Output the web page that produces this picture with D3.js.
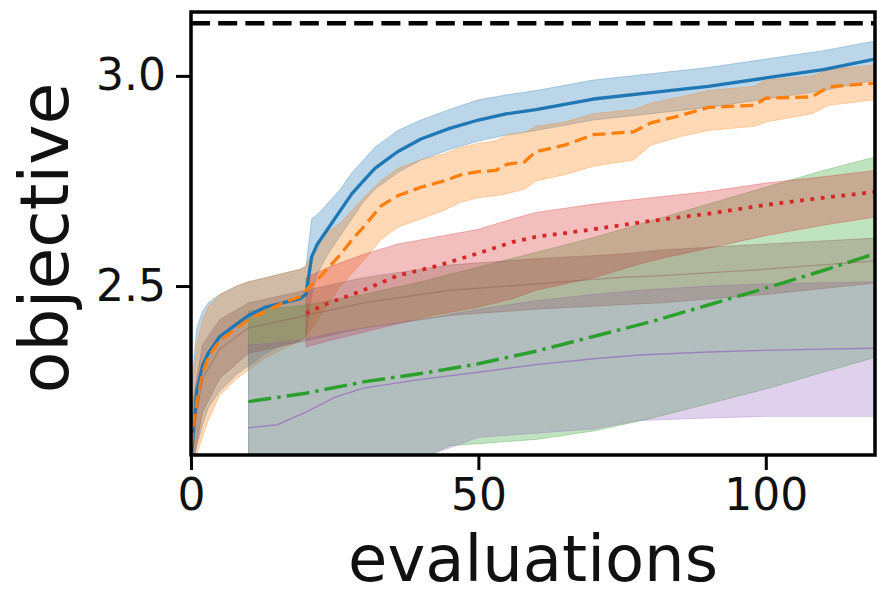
<!DOCTYPE html>
<html>
<head>
<meta charset="utf-8">
<script src="https://cdn.jsdelivr.net/npm/d3@7"></script>
<style>
  html, body { margin: 0; padding: 0; background: #fff; }
  svg { display: block; font-family: "DejaVu Sans", sans-serif; }
</style>
</head>
<body>
<svg id="chart" width="877" height="596"></svg>
<script>
// ---- data: mean curve with lower / upper band for each method ----
const xTicks = [0, 50, 100];
const yTicks = [2.5, 3.0];
const optimum = 3.125;

const blueX    = [0, 1, 2, 3, 5, 8, 10, 13, 16, 19, 20, 21, 22, 24, 26, 28, 30, 32, 34, 36, 40, 45, 50, 55, 60, 70, 80, 90, 100, 110, 119];
const blueMean = [2.08, 2.25, 2.31, 2.34, 2.38, 2.41, 2.43, 2.45, 2.46, 2.47, 2.48, 2.57, 2.60, 2.64, 2.68, 2.72, 2.75, 2.78, 2.80, 2.82, 2.85, 2.875, 2.895, 2.91, 2.92, 2.945, 2.96, 2.975, 2.995, 3.015, 3.04];
const blueHi   = [2.25, 2.40, 2.44, 2.46, 2.48, 2.50, 2.51, 2.52, 2.53, 2.54, 2.545, 2.66, 2.67, 2.70, 2.73, 2.77, 2.80, 2.83, 2.85, 2.87, 2.895, 2.92, 2.943, 2.955, 2.965, 2.99, 3.005, 3.02, 3.04, 3.06, 3.083];
const blueLo   = [2.05, 2.12, 2.17, 2.21, 2.25, 2.29, 2.31, 2.34, 2.36, 2.37, 2.38, 2.48, 2.53, 2.58, 2.62, 2.66, 2.70, 2.73, 2.75, 2.77, 2.80, 2.825, 2.845, 2.86, 2.87, 2.895, 2.91, 2.925, 2.945, 2.965, 2.99];

const orangeX    = [0, 1, 2, 3, 5, 8, 10, 13, 16, 19, 20, 22, 24, 26, 28, 30, 33, 36, 40, 44, 47, 50, 53, 55, 58, 60, 65, 70, 77, 80, 85, 90, 98, 100, 108, 111, 119];
const orangeMean = [2.12, 2.22, 2.29, 2.33, 2.37, 2.40, 2.42, 2.44, 2.46, 2.475, 2.49, 2.515, 2.545, 2.575, 2.61, 2.64, 2.69, 2.715, 2.735, 2.75, 2.765, 2.772, 2.775, 2.79, 2.795, 2.82, 2.835, 2.86, 2.867, 2.888, 2.905, 2.925, 2.93, 2.947, 2.95, 2.974, 2.983];
const orangeHi   = [2.22, 2.36, 2.42, 2.45, 2.48, 2.50, 2.51, 2.52, 2.53, 2.54, 2.55, 2.60, 2.63, 2.65, 2.68, 2.71, 2.75, 2.78, 2.80, 2.815, 2.83, 2.84, 2.845, 2.86, 2.865, 2.88, 2.89, 2.91, 2.92, 2.935, 2.95, 2.965, 2.975, 2.99, 3.0, 3.015, 3.026];
const orangeLo   = [2.05, 2.10, 2.14, 2.18, 2.24, 2.28, 2.30, 2.33, 2.35, 2.37, 2.38, 2.42, 2.46, 2.50, 2.53, 2.56, 2.61, 2.64, 2.66, 2.68, 2.70, 2.71, 2.715, 2.72, 2.73, 2.75, 2.765, 2.785, 2.80, 2.835, 2.855, 2.87, 2.88, 2.89, 2.91, 2.93, 2.943];

const greenX    = [10, 20, 30, 40, 45, 50, 60, 70, 80, 90, 100, 110, 119];
const greenMean = [2.225, 2.245, 2.272, 2.292, 2.303, 2.315, 2.345, 2.38, 2.415, 2.455, 2.495, 2.537, 2.577];
const greenHi   = [2.44, 2.455, 2.48, 2.51, 2.528, 2.545, 2.58, 2.615, 2.655, 2.695, 2.735, 2.775, 2.807];
const greenLo   = [1.98, 2.0, 2.04, 2.09, 2.12, 2.125, 2.135, 2.155, 2.185, 2.22, 2.255, 2.295, 2.33];

const redX    = [20, 24, 30, 36, 42, 50, 56, 60, 70, 80, 90, 100, 110, 119];
const redMean = [2.435, 2.46, 2.49, 2.525, 2.545, 2.578, 2.605, 2.617, 2.635, 2.655, 2.672, 2.693, 2.71, 2.724];
const redHi   = [2.52, 2.545, 2.575, 2.60, 2.615, 2.635, 2.66, 2.675, 2.695, 2.71, 2.725, 2.745, 2.76, 2.775];
const redLo   = [2.355, 2.37, 2.39, 2.41, 2.43, 2.45, 2.47, 2.49, 2.52, 2.56, 2.59, 2.62, 2.645, 2.664];

const purpleX    = [10, 15, 20, 25, 30, 40, 50, 60, 70, 78, 90, 100, 110, 119];
const purpleMean = [2.163, 2.17, 2.20, 2.235, 2.257, 2.278, 2.295, 2.313, 2.327, 2.336, 2.343, 2.347, 2.35, 2.352];
const purpleHi   = [2.36, 2.365, 2.375, 2.39, 2.40, 2.42, 2.445, 2.465, 2.48, 2.49, 2.50, 2.505, 2.508, 2.51];
const purpleLo   = [1.96, 1.97, 1.99, 2.02, 2.05, 2.09, 2.14, 2.15, 2.16, 2.18, 2.186, 2.19, 2.19, 2.19];

const brownX    = [0, 2, 5, 10, 20, 30, 45, 60, 74, 82, 100, 119];
const brownMean = [2.12, 2.28, 2.35, 2.40, 2.43, 2.46, 2.49, 2.505, 2.52, 2.525, 2.54, 2.56];
const brownHi   = [2.20, 2.36, 2.42, 2.46, 2.49, 2.52, 2.55, 2.565, 2.575, 2.586, 2.60, 2.614];
const brownLo   = [2.05, 2.20, 2.28, 2.34, 2.37, 2.40, 2.43, 2.445, 2.455, 2.46, 2.48, 2.507];

// ---- styling per method ----
const series = [
  { xs: blueX,   mean: blueMean,   lo: blueLo,   hi: blueHi,   color: "#1f77b4", width: 3.3, dash: null,          lineOpacity: 1 },
  { xs: orangeX, mean: orangeMean, lo: orangeLo, hi: orangeHi, color: "#ff7f0e", width: 3.3, dash: "13,6",        lineOpacity: 1 },
  { xs: greenX,  mean: greenMean,  lo: greenLo,  hi: greenHi,  color: "#2ca02c", width: 3.5, dash: "23,6,3.5,6",  lineOpacity: 1 },
  { xs: redX,    mean: redMean,    lo: redLo,    hi: redHi,    color: "#d62728", width: 3.8, dash: "3.8,6.6",     lineOpacity: 1 },
  { xs: purpleX, mean: purpleMean, lo: purpleLo, hi: purpleHi, color: "#9467bd", width: 1.4, dash: null,          lineOpacity: 0.7 },
  { xs: brownX,  mean: brownMean,  lo: brownLo,  hi: brownHi,  color: "#8c564b", width: 1.3, dash: null,          lineOpacity: 0.4 }
];

// ---- layout ----
const plot = { left: 191, right: 875, top: 12, bottom: 455 };
const svg = d3.select("#chart");

const x = d3.scaleLinear().domain([0, 119]).range([plot.left, plot.right]);
const y = d3.scaleLinear().domain([2.098, 3.152]).range([plot.bottom, plot.top]);

svg.append("defs").append("clipPath").attr("id", "plot-clip")
  .append("rect")
  .attr("x", plot.left).attr("y", plot.top)
  .attr("width", plot.right - plot.left).attr("height", plot.bottom - plot.top);

const g = svg.append("g").attr("clip-path", "url(#plot-clip)");

const rows = s => s.xs.map((v, i) => ({ x: v, m: s.mean[i], lo: s.lo[i], hi: s.hi[i] }));

const area = d3.area().x(d => x(d.x)).y0(d => y(d.lo)).y1(d => y(d.hi));
const line = d3.line().x(d => x(d.x)).y(d => y(d.m));

// shaded spread bands
series.forEach(s => {
  g.append("path")
    .datum(rows(s))
    .attr("d", area)
    .attr("fill", s.color)
    .attr("fill-opacity", 0.3)
    .attr("stroke", s.color)
    .attr("stroke-opacity", 0.3)
    .attr("stroke-width", 1);
});

// mean curves
series.forEach(s => {
  g.append("path")
    .datum(rows(s))
    .attr("d", line)
    .attr("fill", "none")
    .attr("stroke", s.color)
    .attr("stroke-opacity", s.lineOpacity)
    .attr("stroke-width", s.width)
    .attr("stroke-dasharray", s.dash)
    .attr("stroke-linejoin", "round");
});

// optimum reference line
g.append("line")
  .attr("x1", plot.left).attr("x2", plot.right)
  .attr("y1", y(optimum)).attr("y2", y(optimum))
  .attr("stroke", "#000")
  .attr("stroke-width", 4.5)
  .attr("stroke-dasharray", "19,8.2");

// frame
svg.append("rect")
  .attr("x", plot.left).attr("y", plot.top)
  .attr("width", plot.right - plot.left).attr("height", plot.bottom - plot.top)
  .attr("fill", "none").attr("stroke", "#000").attr("stroke-width", 3.5);

// axes
const xAxis = svg.append("g")
  .attr("transform", `translate(0,${plot.bottom})`)
  .call(d3.axisBottom(x).tickValues(xTicks).tickFormat(d3.format("d")).tickSize(15).tickPadding(9));
const yAxis = svg.append("g")
  .attr("transform", `translate(${plot.left},0)`)
  .call(d3.axisLeft(y).tickValues(yTicks).tickFormat(d3.format(".1f")).tickSize(15).tickPadding(10));

[xAxis, yAxis].forEach(a => {
  a.select(".domain").remove();
  a.selectAll(".tick line").attr("stroke", "#000").attr("stroke-width", 3);
  a.selectAll(".tick text")
    .attr("fill", "#111")
    .style("font-family", "'DejaVu Sans', sans-serif")
    .style("font-size", "44px");
});

// axis titles
svg.append("text")
  .attr("x", (plot.left + plot.right) / 2)
  .attr("y", 580.5)
  .attr("text-anchor", "middle")
  .attr("fill", "#111")
  .style("font-size", "64px")
  .text("evaluations");

svg.append("text")
  .attr("transform", "translate(68,238) rotate(-90)")
  .attr("text-anchor", "middle")
  .attr("fill", "#111")
  .style("font-size", "68px")
  .text("objective");
</script>
</body>
</html>
